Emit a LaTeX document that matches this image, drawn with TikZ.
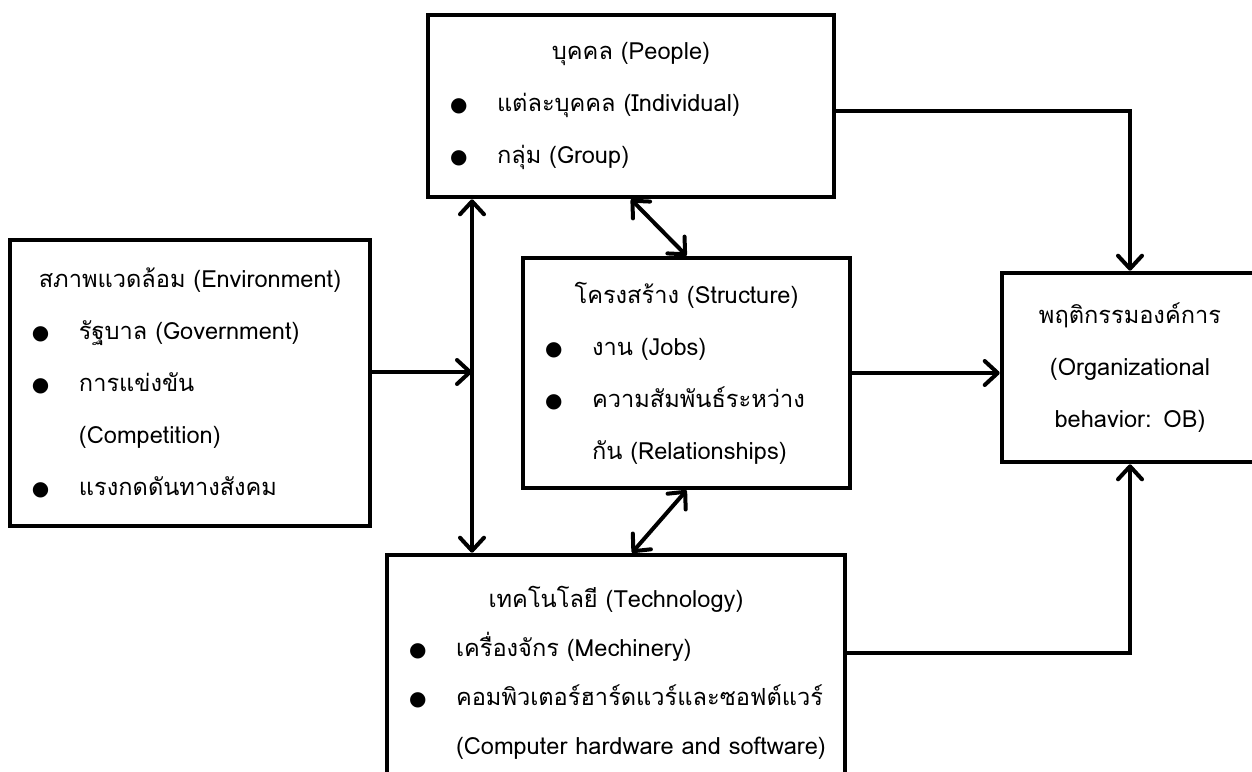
\documentclass[tikz,border=0pt]{standalone}
\usepackage{fontspec}
\setmainfont{Loma}[Script=Thai]
\newfontfamily\symfont{DejaVu Sans}
\usetikzlibrary{arrows.meta}
\usetikzlibrary{positioning}
\newcommand{\dotsym}{{\symfont\fontsize{10}{10}\selectfont ●}}
\newcommand{\bitem}[1]{\makebox[\linewidth][l]{\hspace*{11pt}\makebox[23.5pt][l]{\dotsym}#1}}
\newcommand{\bcont}[1]{\makebox[\linewidth][l]{\hspace*{34.5pt}#1}}
\tikzset{box/.style={draw,line width=2.3pt,inner sep=0pt,align=center,
           font=\fontsize{11.8}{26}\selectfont},
         link/.style={line width=2pt,>={Straight Barb[length=6.5pt,width=12pt,round]}},
         }

\begin{document}
\begin{tikzpicture}[x=0.5pt,y=-0.5pt]
\useasboundingbox (0,0) rectangle (1252,771);
\clip (0,0) rectangle (1252,771);
\node[box,text width=203pt,minimum height=91pt] (ppl) at (631,106)
  {บุคคล (People)\\
   \bitem{แต่ละบุคคล (Individual)}\\
   \bitem{กลุ่ม (Group)}};
\node[box,text width=180pt,minimum height=143pt] (env) at (190,383)
  {สภาพแวดล้อม (Environment)\\
   \bitem{รัฐบาล (Government)}\\
   \bitem{การแข่งขัน}\\
   \bcont{(Competition)}\\
   \bitem{แรงกดดันทางสังคม}};
\node[box,text width=163.5pt,minimum height=115pt] (str) at (686.5,373)
  {โครงสร้าง (Structure)\\
   \bitem{งาน (Jobs)}\\
   \bitem{ความสัมพันธ์ระหว่าง}\\
   \bcont{กัน (Relationships)}};
\node[box,text width=229pt,minimum height=117.5pt,
      font=\fontsize{11.8}{24.5}\selectfont] (tech) at (616,672.5)
  {เทคโนโลยี (Technology)\\
   \bitem{เครื่องจักร (Mechinery)}\\
   \bitem{คอมพิวเตอร์ฮาร์ดแวร์และซอฟต์แวร์}\\
   \bcont{(Computer hardware and software)}};
\node[box,text width=128pt,minimum height=94.5pt] (ob) at (1130,367.5)
  {พฤติกรรมองค์การ\\
   (Organizational\\
   behavior: OB)};
\coordinate (vx) at (472,372);
\draw[link,<->] (vx |- ppl.south) -- (vx |- tech.north);
\draw[link,->] (env.east |- vx) -- (vx);
\draw[link,<->] (ppl.south) -- (str.north);
\draw[link,<->] (str.south) -- ([xshift=8pt]tech.north);
\draw[link,->] (str.east) -- (str.east -| ob.west);
\draw[link,->] ([yshift=-2.5pt]ppl.east) -| (ob.north);
\draw[link,->] ([yshift=10pt]tech.east) -| (ob.south);
\end{tikzpicture}
\end{document}
